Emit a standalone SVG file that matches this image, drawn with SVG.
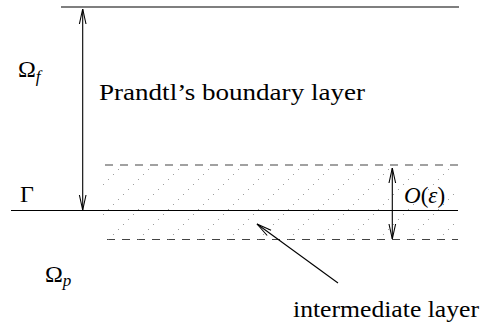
<svg xmlns="http://www.w3.org/2000/svg" width="484" height="325" viewBox="0 0 484 325">
<style>
.ln{stroke:#000;stroke-width:1.1;fill:none}
.dash{stroke:#444;stroke-width:1.1;stroke-dasharray:8 7;fill:none}
.hatch{stroke:#777;stroke-width:1;stroke-dasharray:1 6.1;fill:none}
.arr{stroke:#000;stroke-width:1.1;fill:none;marker-end:url(#v);marker-start:url(#v)}
.arr1{stroke:#000;stroke-width:1.1;fill:none;marker-end:url(#v)}
.it{font-style:italic}
</style>
<defs>
<marker id="v" viewBox="-16 -5 20 10" markerWidth="20" markerHeight="10" refX="0" refY="0" orient="auto-start-reverse" markerUnits="userSpaceOnUse" overflow="visible">
<path d="M-15,-3.3 L0,0 L-15,3.3" fill="none" stroke="#000" stroke-width="1.1"/>
</marker>
<clipPath id="band"><rect x="103" y="165" width="355" height="75"/></clipPath>
</defs>
<g id="boundaries">
<line class="ln" x1="61" y1="7" x2="459" y2="7"/>
<line class="ln" x1="11" y1="210.5" x2="458" y2="210.5"/>
<line class="dash" x1="105" y1="165" x2="458" y2="165"/>
<line class="dash" x1="107" y1="239.5" x2="458" y2="239.5"/>
</g>
<g id="hatching" clip-path="url(#band)">
<line class="hatch" x1="48" y1="240" x2="123" y2="165"/>
<line class="hatch" x1="78" y1="240" x2="153" y2="165"/>
<line class="hatch" x1="108" y1="240" x2="183" y2="165"/>
<line class="hatch" x1="138" y1="240" x2="213" y2="165"/>
<line class="hatch" x1="168" y1="240" x2="243" y2="165"/>
<line class="hatch" x1="198" y1="240" x2="273" y2="165"/>
<line class="hatch" x1="228" y1="240" x2="303" y2="165"/>
<line class="hatch" x1="258" y1="240" x2="333" y2="165"/>
<line class="hatch" x1="288" y1="240" x2="363" y2="165"/>
<line class="hatch" x1="318" y1="240" x2="393" y2="165"/>
<line class="hatch" x1="348" y1="240" x2="423" y2="165"/>
<line class="hatch" x1="378" y1="240" x2="453" y2="165"/>
<line class="hatch" x1="408" y1="240" x2="483" y2="165"/>
<line class="hatch" x1="438" y1="240" x2="513" y2="165"/>
</g>
<g id="connectors">
<line class="arr" x1="82.7" y1="9" x2="82.7" y2="210"/>
<line class="arr" x1="392.3" y1="168" x2="392.3" y2="239"/>
<line class="arr1" x1="338" y1="283" x2="257" y2="224"/>
</g>
<g id="labels" fill="#000" font-family="Liberation Serif, serif">
<text id="omega-f" x="18" y="77" font-size="24">Ω<tspan class="it" font-size="17" dy="5">f</tspan></text>
<text id="prandtl" x="99" y="100" font-size="24" textLength="266" lengthAdjust="spacingAndGlyphs">Prandtl’s boundary layer</text>
<text id="gamma" x="20" y="202" font-size="24">Γ</text>
<text id="oeps" x="404" y="203" font-size="23"><tspan class="it">O</tspan>(<tspan class="it">ε</tspan>)</text>
<text id="omega-p" x="45" y="282" font-size="24">Ω<tspan class="it" font-size="17" dy="4">p</tspan></text>
<text id="intermediate" x="293" y="317" font-size="24" textLength="186" lengthAdjust="spacingAndGlyphs">intermediate layer</text>
</g>
</svg>
